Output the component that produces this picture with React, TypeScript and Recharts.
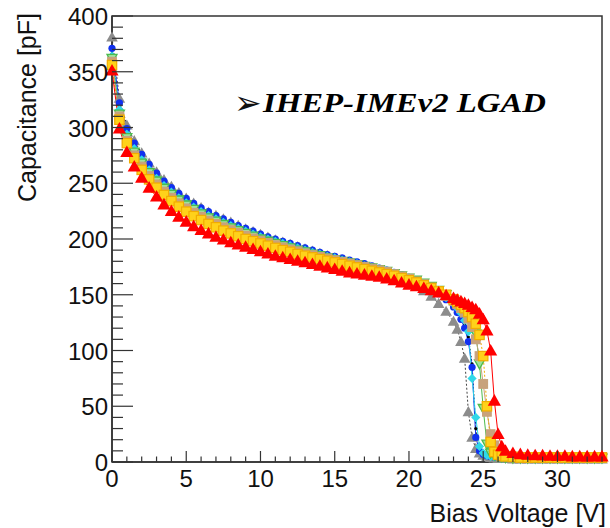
import { LineChart, Line, XAxis, YAxis, ReferenceArea } from 'recharts'

// bias voltage [V] of each measurement point
const voltage = [
  0, 0.5, 1, 1.5, 2, 2.5, 3, 3.5, 4, 4.5,
  5, 5.5, 6, 6.5, 7, 7.5, 8, 8.5, 9, 9.5,
  10, 10.5, 11, 11.5, 12, 12.5, 13, 13.5, 14, 14.5,
  15, 15.5, 16, 16.5, 17, 17.5, 18, 18.5, 19, 19.5,
  20, 20.5, 21, 21.5, 22, 22.5, 23,
  23.25, 23.5, 23.75, 24, 24.25, 24.5, 24.75, 25, 25.25, 25.5, 25.75, 26, 26.25, 26.5,
  27, 27.5, 28, 28.5, 29, 29.5, 30, 30.5, 31, 31.5, 32, 32.5, 33,
]

// capacitance [pF] per device
const capGray = [
  381, 326, 302, 288, 277, 268, 260, 253, 247, 241.5,
  236.5, 232, 228, 224, 221, 218, 215, 212, 209, 206.5,
  204, 201.5, 199, 197, 195, 193, 191, 189, 187, 185,
  183, 181, 179, 177, 175, 173, 171, 169, 166.5, 164,
  161, 157.5, 153.5, 148.5, 142, 135, 126,
  119, 108, 93, 45, 22, 12, 8, 6, 5, 4, 3.5, 3, 3, 3,
  2.5, 2.5, 2.5, 2.5, 2.5, 2.5, 2.5, 2.5, 2.5, 2.5, 2.5, 2.5, 2.5,
]
const capBlack = [
  366, 318, 296, 283, 273, 264, 256.5, 250, 244, 239,
  234.5, 230, 226, 222.5, 219, 216, 213, 210.5, 208, 205.5,
  203, 200.5, 198.5, 196.5, 194.5, 192.5, 190.5, 188.5, 186.5, 185,
  183, 181.5, 179.5, 178, 176, 174.5, 172.5, 170.5, 168.5, 166,
  163.5, 161, 158, 154.5, 150, 145, 139,
  135, 130, 123, 112, 88, 30, 12, 7, 5.5, 5, 4, 3.5, 3.5, 3,
  3, 3, 3, 3, 3, 3, 3, 3, 3, 3, 3, 3, 3,
]
const capBlue = [
  371, 322, 299, 286, 276, 267, 259, 252, 246, 241,
  236.5, 232, 228, 224.5, 221, 218, 215, 212, 209.5, 207,
  204.5, 202, 200, 198, 196, 194, 192, 190, 188, 186,
  184.5, 183, 181, 179.5, 178, 176, 174, 172, 170, 168,
  165.5, 163, 160, 156.5, 151, 145.5, 139,
  134, 128, 120, 108, 85, 22, 10, 7, 5.5, 5, 4.5, 4, 3.5, 3.5,
  3, 3, 3, 3, 3, 3, 3, 3, 3, 3, 3, 3, 3,
]
const capCyan = [
  364, 316, 294, 281, 271, 262, 254.5, 248, 242, 237,
  232.5, 228.5, 224.5, 221, 218, 215, 212, 209.5, 207, 204.5,
  202, 200, 198, 196, 194, 192, 190, 188, 186.5, 184.5,
  183, 181, 179.5, 178, 176, 174.5, 173, 171, 169, 167,
  164.5, 162, 159, 156, 152, 147.5, 142,
  138, 133.5, 127, 117, 75, 40, 14, 8, 6, 5, 4.5, 4, 3.5, 3.5,
  3, 3, 3, 3, 3, 3, 3, 3, 3, 3, 3, 3, 3,
]
const capGreen = [
  362, 312, 291, 278, 268, 259.5, 252, 245.5, 240, 235,
  230.5, 226.5, 222.5, 219, 216, 213, 210, 207.5, 205, 202.5,
  200, 198, 196, 194, 192, 190, 188.5, 186.5, 185, 183,
  181.5, 180, 178.5, 177, 175.5, 174, 172.5, 171, 169, 167,
  165, 163, 160.5, 157.5, 154, 150, 145.5,
  143, 140, 136, 131, 125, 115, 88, 48, 16, 8, 6, 5, 4.5, 4,
  3.5, 3.5, 3.5, 3.5, 3.5, 3.5, 3.5, 3.5, 3.5, 3.5, 3.5, 3.5, 3.5,
]
const capTan = [
  359, 310, 288, 275, 265, 256.5, 249, 242.5, 237, 232,
  227.5, 223.5, 220, 216.5, 213.5, 210.5, 208, 205.5, 203, 200.5,
  198.5, 196.5, 194.5, 192.5, 190.5, 189, 187, 185.5, 184, 182.5,
  181, 179.5, 178, 176.5, 175, 173.5, 172, 170.5, 168.5, 166.5,
  164.5, 162, 159.5, 156.5, 153, 149, 144.5,
  141.5, 138, 134, 128.5, 121, 110, 95, 70, 45, 25, 15, 9, 6.5, 5.5,
  5, 4.5, 4.5, 4.5, 4.5, 4.5, 4.5, 4.5, 4.5, 4.5, 4.5, 4.5, 4.5,
]
const capGold = [
  356, 307, 286, 272.5, 262, 253.5, 246, 239.5, 234, 229,
  224.5, 220.5, 217, 213.5, 210.5, 207.5, 205, 202.5, 200, 198,
  196, 194, 192, 190, 188.5, 186.5, 185, 183.5, 182, 180.5,
  179, 177.5, 176, 174.5, 173, 171.5, 170, 168.5, 167, 165,
  163, 161, 158.5, 156, 153, 150, 146,
  143.5, 141, 138, 134.5, 130, 124, 114, 95, 50, 18, 9, 6.5, 5.5, 5,
  4.5, 4, 4, 4, 4, 4, 4, 4, 4, 4, 4, 4, 4,
]
const capRed = [
  351, 299, 278, 265, 255, 246, 238, 231, 225, 220,
  215.5, 211.5, 208, 205, 202, 199.5, 197, 195, 193, 191,
  189, 187, 185, 183.5, 182, 180.5, 179, 177.5, 176, 174.5,
  173, 171.5, 170, 169, 168, 167, 166, 164.5, 163, 161,
  159, 157.5, 156, 154, 152, 149.5, 147,
  145.5, 144, 142.5, 141, 139, 137, 133, 128, 118, 100, 55, 25, 14, 10,
  8, 7, 6.5, 6, 6, 5.5, 5.5, 5.5, 5, 5, 5, 5, 5,
]

const xTicks = [
  0, 1, 2, 3, 4, 5, 6, 7, 8, 9, 10, 11, 12, 13, 14, 15, 16,
  17, 18, 19, 20, 21, 22, 23, 24, 25, 26, 27, 28, 29, 30, 31, 32, 33,
]
const yTicks = Array.from({ length: 41 }, (_, i) => i * 10)

const rows = voltage.map((v, i) => ({
  v,
  gray: capGray[i],
  black: capBlack[i],
  blue: capBlue[i],
  cyan: capCyan[i],
  green: capGreen[i],
  tan: capTan[i],
  gold: capGold[i],
  red: capRed[i],
}))

type Shape = 'tri' | 'triDown' | 'circle' | 'square' | 'diamond' | 'dot'

const series: {
  key: string
  shape: Shape
  size: number
  fill: string
  stroke: string
  line: string
  dash?: string
}[] = [
  { key: 'gray', shape: 'tri', size: 5.8, fill: '#8c8c8c', stroke: '#8c8c8c', line: '#444', dash: '2 2' },
  { key: 'black', shape: 'dot', size: 1.6, fill: '#000', stroke: '#000', line: '#000', dash: '1.5 2' },
  { key: 'blue', shape: 'circle', size: 3.6, fill: '#1030f0', stroke: '#1030f0', line: '#1030f0' },
  { key: 'cyan', shape: 'diamond', size: 4.6, fill: '#30d8e8', stroke: '#30d8e8', line: '#30d8e8' },
  { key: 'green', shape: 'triDown', size: 5, fill: '#9ee29e', stroke: '#4cbc4c', line: '#4cbc4c' },
  { key: 'tan', shape: 'square', size: 4.3, fill: '#c8a27c', stroke: '#c8a27c', line: '#c8a27c' },
  { key: 'gold', shape: 'square', size: 4.7, fill: '#ffd21a', stroke: '#f2ac00', line: '#f2ac00', dash: '2 2' },
  { key: 'red', shape: 'tri', size: 6.6, fill: '#ff0000', stroke: '#ff0000', line: '#ff0000' },
]

function makeDot(shape: Shape, s: number, fill: string, stroke: string) {
  return (p: any) => {
    const { cx, cy, index } = p
    const k = `m-${index}`
    if (cx == null || cy == null) return <g key={k} />
    if (shape === 'circle' || shape === 'dot')
      return <circle key={k} cx={cx} cy={cy} r={s} fill={fill} stroke="none" />
    if (shape === 'square')
      return (
        <rect key={k} x={cx - s} y={cy - s} width={2 * s} height={2 * s}
          fill={fill} stroke={stroke} strokeWidth={1.2} />
      )
    if (shape === 'diamond')
      return (
        <path key={k} d={`M${cx},${cy - s}L${cx + s},${cy}L${cx},${cy + s}L${cx - s},${cy}Z`}
          fill={fill} stroke="none" />
      )
    if (shape === 'triDown')
      return (
        <path key={k} d={`M${cx - s},${cy - s * 0.8}L${cx + s},${cy - s * 0.8}L${cx},${cy + s}Z`}
          fill={fill} stroke={stroke} strokeWidth={1.3} />
      )
    return (
      <path key={k} d={`M${cx},${cy - s}L${cx + s},${cy + s * 0.75}L${cx - s},${cy + s * 0.75}Z`}
        fill={fill} stroke="none" />
    )
  }
}

const tickFont = { fontFamily: '"Liberation Sans", Arial, sans-serif', fontSize: 24, fill: '#111' }

const XTick = (p: any) => {
  const { x, y, payload } = p
  const major = payload.value % 5 === 0
  return (
    <g>
      <line x1={x} x2={x} y1={y} y2={y - (major ? 11 : 5.5)} stroke="#333" strokeWidth={1.2} />
      {major && (
        <text x={x} y={y + 25} textAnchor="middle" {...tickFont}>
          {payload.value}
        </text>
      )}
    </g>
  )
}

const YTick = (p: any) => {
  const { x, y, payload } = p
  const major = payload.value % 50 === 0
  return (
    <g>
      <line x1={x} x2={x + (major ? 21 : 11)} y1={y} y2={y} stroke="#333" strokeWidth={1.2} />
      {major && (
        <text x={x - 4} y={y + 9} textAnchor="end" {...tickFont}>
          {payload.value}
        </text>
      )}
    </g>
  )
}

export default function App() {
  return (
    <div style={{ position: 'absolute', left: 0, top: 0, width: 610, height: 528, background: '#fff' }}>
      <LineChart width={610} height={528} data={rows} margin={{ top: 16, right: 8, bottom: 0, left: 0 }}>
        <XAxis
          type="number"
          dataKey="v"
          domain={[0, 33]}
          ticks={xTicks}
          interval={0}
          tick={(p: any) => <XTick {...p} />}
          tickLine={false}
          tickSize={0}
          tickMargin={0}
          height={66}
          axisLine={{ stroke: '#333', strokeWidth: 1.5 }}
        />
        <YAxis
          type="number"
          domain={[0, 400]}
          ticks={yTicks}
          interval={0}
          tick={(p: any) => <YTick {...p} />}
          tickLine={false}
          tickSize={0}
          tickMargin={0}
          width={112}
          axisLine={{ stroke: '#333', strokeWidth: 1.5 }}
        />
        <ReferenceArea x1={0} x2={33} y1={0} y2={400} fill="none" fillOpacity={0} stroke="#333" strokeWidth={1.5} />
        {series.map((s) => (
          <Line
            key={s.key}
            dataKey={s.key}
            type="linear"
            stroke={s.line}
            strokeWidth={1}
            strokeDasharray={s.dash}
            dot={makeDot(s.shape, s.size, s.fill, s.stroke)}
            activeDot={false}
            isAnimationActive={false}
          />
        ))}
      </LineChart>
      <svg width={610} height={528} style={{ position: 'absolute', left: 0, top: 0, pointerEvents: 'none' }}>
        <text
          transform="translate(36,13) rotate(-90)"
          textAnchor="end"
          fontFamily='"Liberation Sans", Arial, sans-serif'
          fontSize={25}
          fill="#111"
        >
          Capacitance [pF]
        </text>
        <text x={606} y={522} textAnchor="end" fontFamily='"Liberation Sans", Arial, sans-serif' fontSize={25} fill="#111">
          Bias Voltage [V]
        </text>
        <text x={234} y={114} fontFamily='"DejaVu Sans", sans-serif' fontSize={33} fill="#111">
          ➢
        </text>
        <text
          x={263}
          y={112}
          fontFamily='"Liberation Serif", "Times New Roman", serif'
          fontWeight="bold"
          fontStyle="italic"
          fontSize={27}
          fill="#000"
          textLength={283}
          lengthAdjust="spacingAndGlyphs"
        >
          IHEP-IMEv2 LGAD
        </text>
      </svg>
    </div>
  )
}
